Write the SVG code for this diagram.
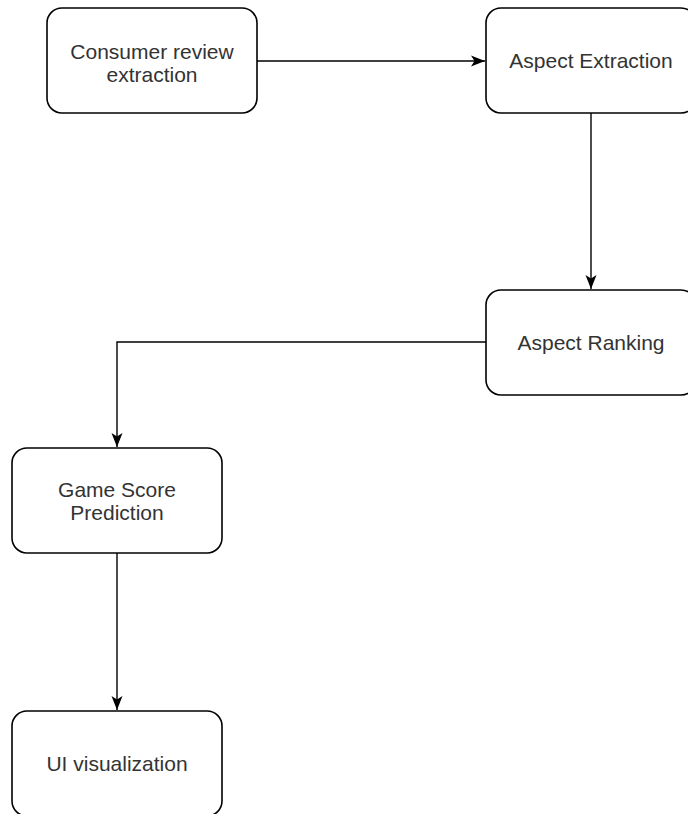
<svg xmlns="http://www.w3.org/2000/svg" width="688" height="814" viewBox="0 0 688 814">
<style>
.box{fill:#fff;stroke:#000;stroke-width:1.6}
.lbl{font-family:"Liberation Sans",Arial,sans-serif;font-size:21px;fill:#333;text-anchor:middle}
.edge{fill:none;stroke:#000;stroke-width:1.4}
</style>
<defs>
<marker id="arr" viewBox="0 0 14 12" refX="14" refY="6" markerWidth="14" markerHeight="12" markerUnits="userSpaceOnUse" orient="auto">
<path d="M0,0.5 L14,6 L0,11.5 L3.5,6 Z" fill="#000"/>
</marker>
</defs>
<rect width="688" height="814" fill="#fff"/>
<g id="connectors">
<path class="edge" d="M257,61 H485" marker-end="url(#arr)"/>
<path class="edge" d="M591,113 V289" marker-end="url(#arr)"/>
<path class="edge" d="M486,342 H117 V447" marker-end="url(#arr)"/>
<path class="edge" d="M117,553 V710" marker-end="url(#arr)"/>
</g>
<g id="n1">
<rect class="box" x="47" y="8" width="210" height="105" rx="15"/>
<text class="lbl" x="152" y="59">Consumer review</text>
<text class="lbl" x="152" y="82">extraction</text>
</g>
<g id="n2">
<rect class="box" x="486" y="8" width="210" height="105" rx="15"/>
<text class="lbl" x="591" y="68">Aspect Extraction</text>
</g>
<g id="n3">
<rect class="box" x="486" y="290" width="210" height="105" rx="15"/>
<text class="lbl" x="591" y="350">Aspect Ranking</text>
</g>
<g id="n4">
<rect class="box" x="12" y="448" width="210" height="105" rx="15"/>
<text class="lbl" x="117" y="497">Game Score</text>
<text class="lbl" x="117" y="520">Prediction</text>
</g>
<g id="n5">
<rect class="box" x="12" y="711" width="210" height="105" rx="15"/>
<text class="lbl" x="117" y="771">UI visualization</text>
</g>
</svg>
